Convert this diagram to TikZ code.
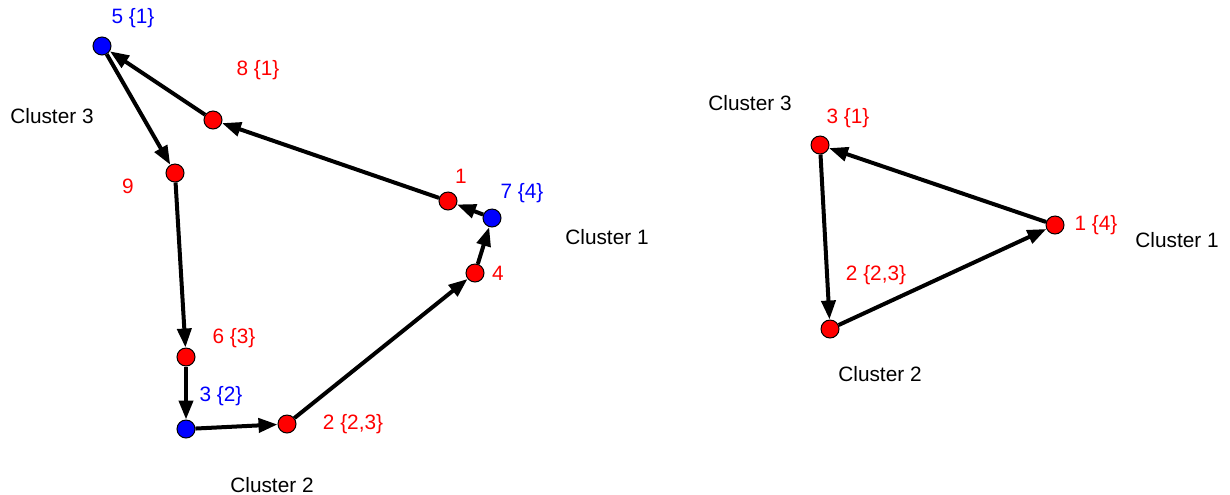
\documentclass[tikz,border=0pt]{standalone}
\usepackage{fontspec}
\setmainfont{Liberation Sans}
\usetikzlibrary{arrows.meta}

\begin{document}
\begin{tikzpicture}[x=0.5pt,y=-0.5pt,
    font=\fontsize{10.4}{12.5}\selectfont,
    vert/.style={circle,draw=black,line width=0.5pt,inner sep=0pt,minimum size=9pt},
    rv/.style={vert,fill=red},
    bv/.style={vert,fill=blue},
    rl/.style={text=red},
    bl/.style={text=blue},
    arc/.style={line width=2pt,-{Triangle[length=9.5pt,width=7pt]}}]
    \useasboundingbox (0,0) rectangle (1230,494);

    % Left graph
    \node[bv] (L5) at (102,46) {};
    \node[rv] (L8) at (213,120) {};
    \node[rv] (L9) at (175,173) {};
    \node[rv] (L1) at (448,201) {};
    \node[bv] (L7) at (492,218) {};
    \node[rv] (L4) at (475,273) {};
    \node[rv] (L6) at (186,357) {};
    \node[bv] (L3) at (186,429) {};
    \node[rv] (L2) at (287,424) {};

    \draw[arc] (L8) -- (L5);
    \draw[arc] (L5) -- (L9);
    \draw[arc] (L9) -- (L6);
    \draw[arc] (L6) -- (L3);
    \draw[arc] (L3) -- (L2);
    \draw[arc] (L2) -- (L4);
    \draw[arc] (L4) -- (L7);
    \draw[arc] (L7) -- (L1);
    \draw[arc] (L1) -- (L8);

    % Left labels
    \node[bl] (t5) at (133,18) {5 \{1\}};
    \node[rl] (t8) at (258,70) {8 \{1\}};
    \node[rl] (t9) at (128,186) {9};
    \node[rl] (t1) at (461,176) {1};
    \node[bl] (t7) at (522,193) {7 \{4\}};
    \node[rl] (t4) at (498,273) {4};
    \node[rl] (t6) at (234,338) {6 \{3\}};
    \node[bl] (t3) at (221,396) {3 \{2\}};
    \node[rl] (t2) at (353,424) {2 \{2,3\}};
    \node (c3) at (52,116) {Cluster 3};
    \node (c1) at (607,237) {Cluster 1};
    \node (c2) at (272,485) {Cluster 2};

    % Right graph
    \node[rv] (R3) at (820,145) {};
    \node[rv] (R1) at (1055,225) {};
    \node[rv] (R2) at (830,329) {};

    \draw[arc] (R1) -- (R3);
    \draw[arc] (R3) -- (R2);
    \draw[arc] (R2) -- (R1);

    % Right labels
    \node (rc3) at (750,103) {Cluster 3};
    \node[rl] (r3) at (848,118) {3 \{1\}};
    \node[rl] (r1) at (1096,225) {1 \{4\}};
    \node (rc1) at (1177,240) {Cluster 1};
    \node[rl] (r2) at (876,275) {2 \{2,3\}};
    \node (rc2) at (880,374) {Cluster 2};
\end{tikzpicture}
\end{document}
